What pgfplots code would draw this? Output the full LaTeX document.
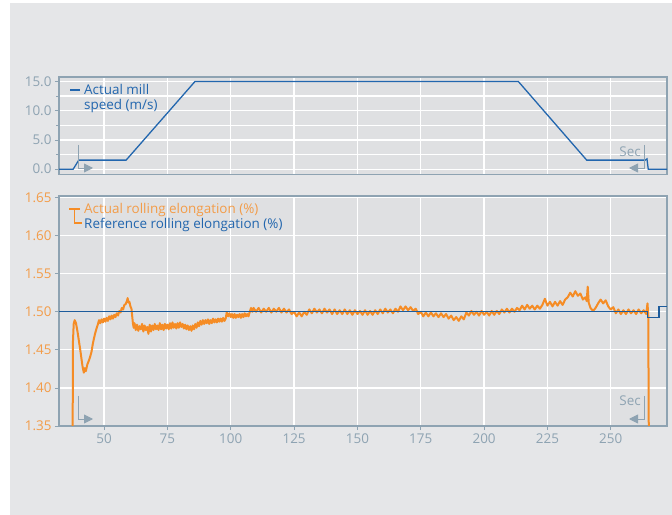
\documentclass[border=0pt]{standalone}
\usepackage{fontspec}
\setmainfont{Open Sans}
\usepackage{pgfplots}
\pgfplotsset{compat=1.18}
\usetikzlibrary{arrows.meta}
\definecolor{panel}{HTML}{E5E6E8}
\definecolor{axisbg}{HTML}{DFE0E2}
\definecolor{framec}{HTML}{8EA3B2}
\definecolor{tickc}{HTML}{8EA3B2}
\definecolor{blueline}{HTML}{2266AE}
\definecolor{refblue}{HTML}{1D5C9C}
\definecolor{orangeline}{HTML}{F58C25}
\definecolor{orangetxt}{HTML}{F39C48}
\begin{document}
\begin{tikzpicture}
\useasboundingbox (0,0) rectangle (672bp,515bp);
\fill[white] (0,0) rectangle (672bp,515bp);
\fill[panel] (10bp,0) rectangle (672bp,512bp);
\pgfplotsset{
  common/.style={
    scale only axis, anchor=south west, width=608bp,
    xmin=32.2, xmax=272.2,
    axis background/.style={fill=axisbg},
    axis line style={draw=framec, line width=1.1bp},
    tick style={draw=tickc, line width=0.8bp},
    tick align=outside, xtick pos=left, ytick pos=left,
    major tick length=4bp, minor tick length=2.5bp,
    grid=both,
    major grid style={white, line width=1.2bp},
    minor grid style={white, line width=1.2bp},
    xtick={50,75,...,250},
    tick label style={font=\fontsize{13.5}{15}\selectfont},
    xticklabel style={color=tickc},
    /pgf/number format/assume math mode=true,
  }
}
% top axis: mill speed
\begin{axis}[common, at={(59bp,340.5bp)}, height=97.5bp,
  ymin=-0.91, ymax=15.76,
  ytick={0,5,10,15}, minor ytick={2.5,7.5,12.5},
  xticklabels={}, x tick style={draw=none},
  yticklabel style={color=tickc, /pgf/number format/.cd, fixed, fixed zerofill, precision=1},
]
\addplot[blueline, line width=1.3bp] coordinates {
(32.2,0) (37.8,0) (40.0,1.55) (58.7,1.55) (85.9,15) (213.5,15) (240.5,1.55) (263.6,1.55) (264.3,1.75) (264.8,0) (272.2,0)
};
\end{axis}
% bottom axis: elongation
\begin{axis}[common, at={(59bp,89bp)}, height=230bp,
  ymin=1.35, ymax=1.652,
  ytick={1.35,1.40,1.45,1.50,1.55,1.60,1.65},
  yticklabel style={color=orangetxt, /pgf/number format/.cd, fixed, fixed zerofill, precision=2},
]
\addplot[orangeline, line width=2bp, line join=round] coordinates {
(37.6,1.35) (37.7,1.46) (38.0,1.484) (38.4,1.489) (38.9,1.485) (39.5,1.474) (40.0,1.463) (40.5,1.452) (41.0,1.440) (41.5,1.428) (42.0,1.420) (42.4,1.426) (42.8,1.422) (43.4,1.431) (44.0,1.436) (44.5,1.441) (45.0,1.447) (45.5,1.457) (46.0,1.465) (46.5,1.472) (47.1,1.479) (47.6,1.484) (48.0,1.489) (48.5,1.485) (49.0,1.490) (49.5,1.486) (50.0,1.491) (50.5,1.487) (51.0,1.492) (51.5,1.488) (52.0,1.494) (52.5,1.490) (53.0,1.495) (53.5,1.491) (54.0,1.496) (54.5,1.493) (55.0,1.498) (55.5,1.495) (56.0,1.501) (56.5,1.499) (57.0,1.505) (57.5,1.503) (58.0,1.509) (58.5,1.510) (59.0,1.514) (59.3,1.518) (59.6,1.512) (60.0,1.513) (60.4,1.507) (60.8,1.504) (61.1,1.494) (61.4,1.484) (61.7,1.479)
(62.0,1.485) (62.5,1.476) (63.0,1.483) (63.5,1.475) (64.0,1.481) (64.5,1.477) (65.0,1.484) (65.5,1.474) (66.0,1.482) (66.5,1.476) (67.0,1.480) (67.5,1.471) (68.0,1.483) (68.5,1.474) (69.0,1.482) (69.5,1.476) (70.0,1.484) (70.5,1.477) (71.0,1.482) (71.5,1.476) (72.0,1.485) (72.5,1.477) (73.0,1.483) (73.5,1.476) (74.0,1.484) (74.5,1.478) (75.0,1.483) (75.5,1.477) (76.0,1.485) (76.5,1.478) (77.0,1.486) (77.5,1.479) (78.0,1.484) (78.5,1.478) (79.0,1.485) (79.5,1.479) (80.0,1.486) (80.5,1.480) (81.0,1.484) (81.5,1.478) (82.0,1.483) (82.5,1.477) (83.0,1.482) (83.5,1.476) (84.0,1.481) (84.5,1.475) (85.0,1.482) (85.5,1.477) (86.0,1.484) (86.5,1.479)
(87.0,1.486) (87.5,1.481) (88.0,1.488) (88.5,1.483) (89.0,1.489) (89.5,1.484) (90.0,1.489) (90.5,1.485) (91.0,1.490) (91.5,1.484) (92.0,1.489) (92.5,1.485) (93.0,1.491) (93.5,1.486) (94.0,1.490) (94.5,1.486) (95.0,1.491) (95.5,1.487) (96.0,1.491) (96.5,1.487) (97.0,1.492) (97.5,1.488) (98.0,1.491) (98.4,1.499) (99.0,1.494) (99.5,1.498) (100.0,1.493) (100.5,1.497) (101.0,1.492) (101.5,1.497) (102.0,1.492) (102.5,1.496) (103.0,1.493) (103.5,1.497) (104.0,1.492) (104.5,1.497) (105.0,1.493) (105.5,1.498) (106.0,1.494) (106.5,1.497) (107.0,1.494) (107.6,1.501) (108.0,1.505) (108.5,1.500)
(109,1.505) (110,1.500) (111,1.505) (112,1.499) (113,1.504) (114,1.500) (115,1.505) (116,1.499) (117,1.504) (118,1.500) (119,1.505) (120,1.499) (121,1.504) (122,1.499) (123,1.503) (124,1.497) (125,1.500) (126,1.494) (127,1.499) (128,1.494) (129,1.500) (130,1.496) (131,1.503) (132,1.498) (133,1.504) (134,1.499) (135,1.503) (136,1.498) (137,1.504) (138,1.499) (139,1.503) (140,1.497) (141,1.503) (142,1.497) (143,1.502) (144,1.497) (145,1.503) (146,1.497) (147,1.502) (148,1.496) (149,1.502) (150,1.497) (151,1.501) (152,1.496) (153,1.502) (154,1.496) (155,1.501) (156,1.496) (157,1.502) (158,1.497) (159,1.503) (160,1.498) (161,1.504) (162,1.499) (163,1.503) (164,1.498) (165,1.504) (166,1.500) (167,1.507) (168,1.502) (169,1.507) (170,1.502) (171,1.506) (172,1.501) (173,1.504) (174,1.497) (175,1.500) (176,1.494) (177,1.499) (178,1.494) (179,1.499) (180,1.494) (181,1.498) (182,1.493) (183,1.498) (184,1.493) (185,1.497) (186,1.491) (187,1.495) (188,1.489) (189,1.493) (190,1.488) (191,1.494) (192,1.490) (193,1.499) (194,1.495) (195,1.501) (196,1.496) (197,1.500) (198,1.495) (199,1.501) (200,1.496) (201,1.500) (202,1.495) (203,1.501) (204,1.496) (205,1.501) (206,1.497) (207,1.503) (208,1.499) (209,1.504) (210,1.499) (211,1.504) (212,1.500) (213,1.505) (214,1.502) (215,1.508) (216,1.503) (217,1.509) (218,1.504) (219,1.508) (220,1.503) (221,1.508) (222,1.504) (223,1.509) (224,1.517) (225,1.508) (226,1.513) (227,1.507) (228,1.513) (229,1.508) (230,1.514) (231,1.509) (232,1.516) (233,1.519) (234,1.525) (235,1.520) (236,1.527) (237,1.521) (238,1.524) (239,1.516) (240,1.519) (240.5,1.514) (240.9,1.533) (241.3,1.512) (242,1.505) (243,1.501) (244,1.505) (245,1.511) (246,1.516) (247,1.511) (248,1.515) (249,1.507) (250,1.503) (251,1.506) (252,1.498) (253,1.503) (254,1.497) (255,1.502) (256,1.497) (257,1.503) (258,1.498) (259,1.502) (260,1.497) (261,1.503) (262,1.498) (263,1.502) (264,1.497) (264.5,1.511) (264.8,1.495) (265,1.35)
};
\addplot[refblue, line width=1.3bp] coordinates {
(32.2,1.5) (264.6,1.5) (264.6,1.4926) (269,1.4926) (269,1.5066) (272.2,1.5066)
};
\end{axis}
% legends
\draw[blueline, line width=1.2bp] (70bp,425bp) -- (80bp,425bp);
\node[anchor=base west, inner sep=0, text=blueline, font=\fontsize{13.5}{15}\selectfont] at (84bp,420.7bp) {Actual mill};
\node[anchor=base west, inner sep=0, text=blueline, font=\fontsize{13.5}{15}\selectfont] at (84bp,405bp) {speed (m/s)};
\draw[orangeline, line width=1.1bp] (69bp,306bp) -- (80bp,306bp) (74.7bp,306bp) -- (74.7bp,292bp) -- (82bp,292bp);
\node[anchor=base west, inner sep=0, text=orangetxt, font=\fontsize{13.5}{15}\selectfont] at (84bp,301bp) {Actual rolling elongation (\%)};
\node[anchor=base west, inner sep=0, text=blueline, font=\fontsize{13.5}{15}\selectfont] at (84bp,286bp) {Reference rolling elongation (\%)};
% start / end markers
\draw[tickc, line width=0.9bp, -{Triangle[length=9bp,width=9bp]}] (78.7bp,370bp) -- (78.7bp,347bp) -- (93bp,347bp);
\draw[tickc, line width=0.9bp, -{Triangle[length=9bp,width=9bp]}] (78.3bp,119bp) -- (78.3bp,96bp) -- (93bp,96bp);
\draw[tickc, line width=0.9bp, -{Triangle[length=9bp,width=9bp]}] (644bp,370bp) -- (644bp,347bp) -- (629bp,347bp);
\draw[tickc, line width=0.9bp, -{Triangle[length=9bp,width=9bp]}] (644.3bp,119bp) -- (644.3bp,96bp) -- (629bp,96bp);
\node[anchor=base east, inner sep=0, text=tickc, font=\fontsize{13.5}{15}\selectfont] at (641bp,358bp) {Sec};
\node[anchor=base east, inner sep=0, text=tickc, font=\fontsize{13.5}{15}\selectfont] at (641bp,109bp) {Sec};
\end{tikzpicture}
\end{document}
